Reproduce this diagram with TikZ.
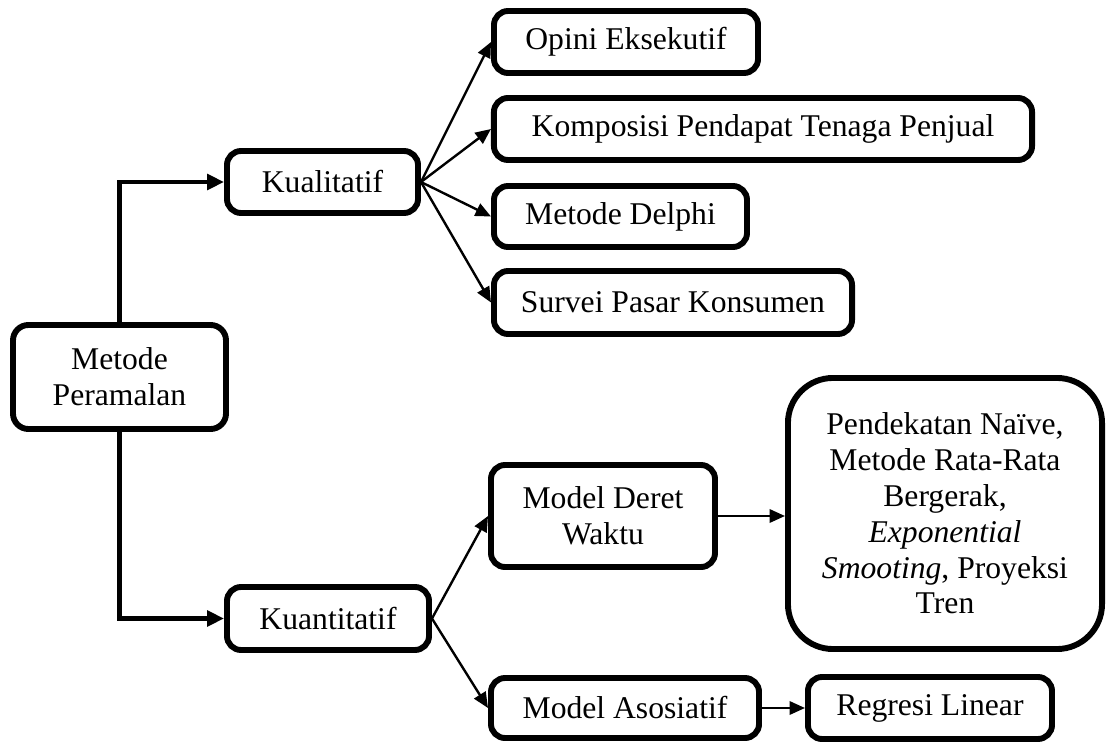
\documentclass[tikz,border=0pt]{standalone}
\usepackage{fontspec}
\setmainfont{Liberation Serif}
\usepackage{xcolor}
\usetikzlibrary{arrows.meta,positioning,calc}
\definecolor{ink}{HTML}{000000}
\tikzset{
  pbox/.style={draw=ink, fill=white, rounded corners=10pt, line width=4.2pt, align=center, font=\fontsize{22.5}{25.5}\selectfont, inner sep=0pt, minimum height=1.55cm},
  pboxbig/.style={pbox, rounded corners=32pt},
  parrow/.style={-{Triangle[length=12pt,width=11pt]}, line width=3.5pt, ink},
  parrowthin/.style={-{Triangle[length=11pt,width=9.5pt]}, line width=1.7pt, ink},
}
\begin{document}
\begin{tikzpicture}[x=0.025cm, y=-0.025cm]
  \useasboundingbox (0,0) rectangle (1107,742);
  % root and the two branches
  \node[pbox, minimum width=5.325cm, minimum height=2.6cm, rounded corners=11pt] (metode) at (119.5,377) {Metode\\Peramalan};
  \node[pbox, minimum width=4.775cm] (kual) at (322.5,182) {Kualitatif};
  \node[pbox, minimum width=5.05cm, minimum height=1.575cm] (kuan) at (328,618.5) {Kuantitatif};
  % qualitative methods
  \node[pbox, minimum width=6.6cm] (opini) at (626,42) {Opini Eksekutif};
  \node[pbox, minimum width=13.45cm] (komp) at (763,129) {Komposisi Pendapat Tenaga Penjual};
  \node[pbox, minimum width=6.325cm, minimum height=1.525cm] (delphi) at (620.5,216.5) {Metode Delphi};
  \node[pbox, minimum width=8.95cm, minimum height=1.575cm] (survei) at (673,302.5) {Survei Pasar Konsumen};
  % quantitative models
  \node[pbox, minimum width=5.6cm, minimum height=2.55cm] (deret) at (603,516) {Model Deret\\Waktu};
  \node[pboxbig, minimum width=7.85cm, minimum height=6.775cm] (runtun) at (945,513.5) {Pendekatan Naïve,\\Metode Rata-Rata\\Bergerak,\\\textit{Exponential}\\\textit{Smooting}, Proyeksi\\Tren};
  \node[pbox, minimum width=6.7cm, minimum height=1.5cm] (asos) at (625,708) {Model Asosiatif};
  \node[pbox, minimum width=6.1cm, right=1.075cm of asos] (regresi) {Regresi Linear};

  \draw[parrow] (metode.north) |- (kual.west);
  \draw[parrow] (metode.south) |- (kuan.west);
  \foreach \t in {opini,komp,delphi,survei}
    \draw[parrowthin] (kual.east) -- (\t.west);
  \draw[parrowthin] (kuan.east) -- (deret.west);
  \draw[parrowthin] (kuan.east) -- (asos.west);
  \draw[parrowthin] (deret.east) -- (deret.east -| runtun.west);
  \draw[parrowthin] (asos.east) -- (regresi.west);
\end{tikzpicture}
\end{document}
